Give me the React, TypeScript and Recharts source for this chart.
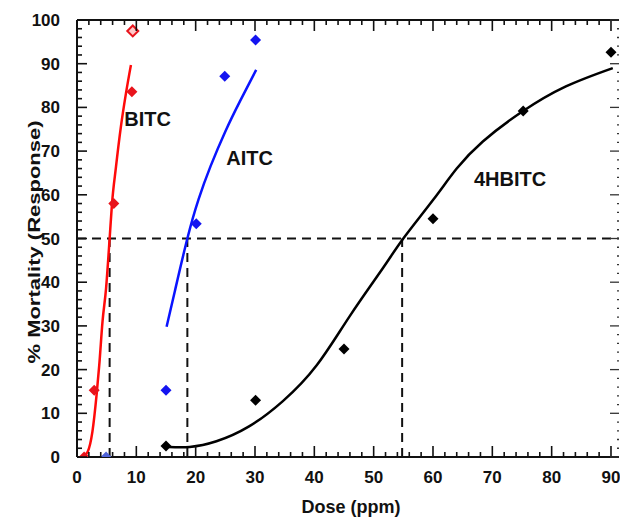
import {
    ComposedChart, Line, Scatter, XAxis, YAxis, ReferenceLine, ReferenceDot,
} from "recharts";

const FONT = "'Liberation Sans', Arial, sans-serif";

// observed mortality points (diamonds)
const bitcDose = [1.2, 2.9, 6.2, 9.25, 9.4];
const bitcResp = [0, 15.3, 58, 83.6, 97.5];
const aitcDose = [4.9, 15, 20.1, 24.9, 30.1];
const aitcResp = [0, 15.3, 53.4, 87.1, 95.4];
const hbitcDose = [15, 30.1, 45, 60, 75.2, 90];
const hbitcResp = [2.5, 13, 24.7, 54.5, 79.2, 92.6];

// fitted curves
const bitcFitDose = [0.95, 1.8, 2.6, 3.3, 3.75, 4.3, 4.9, 5.5, 5.9, 6.57, 7.4, 8.25, 9.09];
const bitcFitResp = [0, 1.2, 5.8, 14.2, 21, 31, 38.6, 50, 58, 66.4, 75.6, 83.2, 89.7];
const aitcFitDose = [15.1, 16.5, 18.6, 20.5, 22.5, 25, 27.5, 30.2];
const aitcFitResp = [29.8, 38, 50, 59, 66.5, 74.5, 81.5, 88.6];
const hbitcFitDose = [15.5, 19, 23.5, 29, 34.7, 40.4, 46, 51.6, 55, 60, 64, 68.4, 75, 82.4, 90.3];
const hbitcFitResp = [2.3, 2.3, 3.6, 7, 12.8, 21, 32.3, 43.3, 50, 58.8, 66, 72.2, 79, 84.8, 89];

// LC50 values (dashed guides)
const lc50 = [5.5, 18.6, 54.8];

const seriesNames = ["BITC", "AITC", "4HBITC"];
const labelDose = [11.9, 29.1, 73];
const labelResp = [77.3, 68.5, 63.7];

const xMajor = [0, 10, 20, 30, 40, 50, 60, 70, 80, 90];
const yMajor = [0, 10, 20, 30, 40, 50, 60, 70, 80, 90, 100];
const xTicks = Array.from({ length: 46 }, (_, i) => i * 2);
const yTicks = Array.from({ length: 51 }, (_, i) => i * 2);

const X_MAX = 91.35;
const PLOT_W = 542;

const toPoints = (xs: number[], ys: number[]) => xs.map((x, i) => ({ x, y: ys[i] }));
const isMajor = (v: number) => v % 10 === 0;

const bottomLabel = (p: any) => {
    const v = p.payload.value;
    if (!xMajor.includes(v)) return <g />;
    return (
        <text x={Number(p.x)} y={Number(p.y) + 26} textAnchor="middle" fontFamily={FONT} fontWeight="bold" fontSize={17} fill="#111">
            {v}
        </text>
    );
};

const leftLabel = (p: any) => {
    const v = p.payload.value;
    if (!yMajor.includes(v)) return <g />;
    return (
        <text x={Number(p.x) - 17} y={Number(p.y) + 6} textAnchor="end" fontFamily={FONT} fontWeight="bold" fontSize={17} fill="#111">
            {v}
        </text>
    );
};

const diamond = (color: string) => (p: any) => {
    const { cx, cy, index } = p;
    const s = 5.5;
    const hollow = color === "#e8141c" && index === 4;
    return (
        <polygon
            points={`${cx},${cy - s} ${cx + s},${cy} ${cx},${cy + s} ${cx - s},${cy}`}
            fill={hollow ? "#ffc8c8" : index === 0 && color === "#1414f0" ? "#4f63d8" : color}
            stroke={hollow ? color : "none"}
            strokeWidth={hollow ? 2 : 0}
        />
    );
};

const nameLabel = (name: string) => (p: any) => (
    <text x={p.cx} y={p.cy + 7} textAnchor="middle" fontFamily={FONT} fontWeight="bold" fontSize={20} fill="#111">
        {name}
    </text>
);

// a short stroke drawn from the anchor point, used for the inward frame ticks
const stroke = (dx: number, dy: number, color = "#111", w = 1.6) => (p: any) => (
    <path d={`M${p.cx},${p.cy}l${dx},${dy}`} stroke={color} strokeWidth={w} fill="none" />
);

export default function App() {
    const ax = { xAxisId: "b", yAxisId: "l", ifOverflow: "visible" as const, r: 0 };
    return (
        <div style={{ position: "absolute", left: 0, top: 0, width: 620, height: 519 }}>
            <ComposedChart width={620} height={519} margin={{ top: 20, right: 1, bottom: 0, left: 0 }}>
                <XAxis
                    xAxisId="b" type="number" dataKey="x" domain={[0, X_MAX]} allowDataOverflow
                    ticks={xTicks} interval={0} tickSize={0} tickMargin={0} tickLine={false}
                    tick={bottomLabel} height={62}
                    axisLine={{ stroke: "#111", strokeWidth: 2 }}
                    label={(p: any) => (
                        <text x={p.viewBox.x + p.viewBox.width / 2 + 3} y={513} textAnchor="middle"
                            fontFamily={FONT} fontWeight="bold" fontSize={18} fill="#111">Dose (ppm)</text>
                    )}
                />
                <YAxis
                    yAxisId="l" type="number" dataKey="y" domain={[0, 100]} allowDataOverflow
                    ticks={yTicks} interval={0} tickSize={0} tickMargin={0} tickLine={false}
                    tick={leftLabel} width={77}
                    axisLine={{ stroke: "#111", strokeWidth: 2 }}
                    label={() => (
                        <text x={40} y={242} transform="rotate(-90 40 242)" textAnchor="middle"
                            textLength={243} lengthAdjust="spacingAndGlyphs"
                            fontFamily={FONT} fontWeight="bold" fontSize={17} fill="#111">% Mortality (Response)</text>
                    )}
                />

                <ReferenceLine xAxisId="b" yAxisId="l" y={50} stroke="#111" strokeWidth={2} strokeDasharray="9 6" />
                {lc50.map((d) => (
                    <ReferenceLine key={d} xAxisId="b" yAxisId="l" segment={[{ x: d, y: 0 }, { x: d, y: 50 }]}
                        stroke="#111" strokeWidth={2} strokeDasharray="9 6" />
                ))}

                <Line xAxisId="b" yAxisId="l" data={toPoints(bitcFitDose, bitcFitResp)} dataKey="y" type="monotone"
                    stroke="#ff0a0a" strokeWidth={2.5} dot={false} isAnimationActive={false} />
                <Line xAxisId="b" yAxisId="l" data={toPoints(aitcFitDose, aitcFitResp)} dataKey="y" type="natural"
                    stroke="#0a14ff" strokeWidth={2.5} dot={false} isAnimationActive={false} />
                <Line xAxisId="b" yAxisId="l" data={toPoints(hbitcFitDose, hbitcFitResp)} dataKey="y" type="natural"
                    stroke="#000" strokeWidth={2.5} dot={false} isAnimationActive={false} />

                <Scatter xAxisId="b" yAxisId="l" data={toPoints(bitcDose, bitcResp)} shape={diamond("#e8141c")} isAnimationActive={false} />
                <Scatter xAxisId="b" yAxisId="l" data={toPoints(aitcDose, aitcResp)} shape={diamond("#1414f0")} isAnimationActive={false} />
                <Scatter xAxisId="b" yAxisId="l" data={toPoints(hbitcDose, hbitcResp)} shape={diamond("#000")} isAnimationActive={false} />

                {seriesNames.map((n, i) => (
                    <ReferenceDot key={n} {...ax} x={labelDose[i]} y={labelResp[i]} shape={nameLabel(n)} />
                ))}

                {/* frame: top border plus inward ticks on all four sides */}
                <ReferenceDot {...ax} x={0} y={100} shape={stroke(PLOT_W, 0, "#111", 2)} />
                {xTicks.map((v) => (
                    <ReferenceDot key={`b${v}`} {...ax} x={v} y={0} shape={stroke(0, isMajor(v) ? -11 : -5)} />
                ))}
                {xTicks.map((v) => (
                    <ReferenceDot key={`t${v}`} {...ax} x={v} y={100} shape={stroke(0, isMajor(v) ? 11 : 5)} />
                ))}
                {yTicks.map((v) => (
                    <ReferenceDot key={`l${v}`} {...ax} x={0} y={v} shape={stroke(isMajor(v) ? 10 : 5, 0)} />
                ))}
                {yTicks.map((v) => (
                    <ReferenceDot key={`r${v}`} {...ax} x={X_MAX} y={v} shape={stroke(isMajor(v) ? -9 : -2, 0, "#333", 1.3)} />
                ))}
            </ComposedChart>
        </div>
    );
}
